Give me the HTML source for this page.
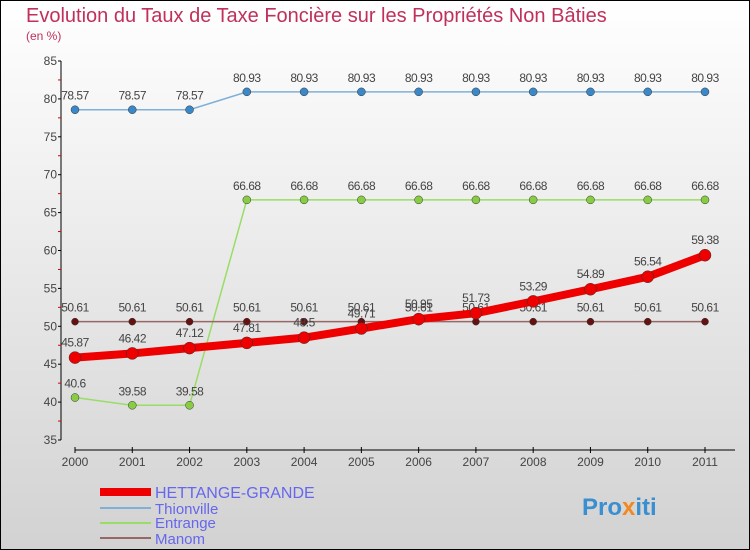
<!DOCTYPE html>
<html><head><meta charset="utf-8"><style>
body{margin:0}
svg{display:block;font-family:"Liberation Sans",sans-serif}
</style></head><body>
<svg id="c" width="750" height="550" xmlns="http://www.w3.org/2000/svg">
<defs><linearGradient id="bg" x1="0" y1="0" x2="0" y2="1"><stop offset="0" stop-color="#ffffff"/><stop offset="1" stop-color="#d2d2d2"/></linearGradient></defs>
<rect x="0.5" y="0.5" width="749" height="549" fill="url(#bg)" stroke="#000"/>
<text x="26" y="22" font-size="20" fill="#c0305a">Evolution du Taux de Taxe Foncière sur les Propriétés Non Bâties</text>
<text x="26" y="40" font-size="12" fill="#c0305a">(en %)</text>
<g id="axes"></g>
<g id="series"></g>
<g>
<rect x="100" y="488" width="51" height="8" fill="#e00"/>
<text x="155" y="498" font-size="16" fill="#6666ee">HETTANGE-GRANDE</text>
<rect x="100" y="507" width="51" height="2" fill="#7fb0d8"/>
<text x="155" y="514" font-size="15" fill="#6666ee">Thionville</text>
<rect x="100" y="522" width="51" height="2" fill="#99dd66"/>
<text x="155" y="528" font-size="15" fill="#6666ee">Entrange</text>
<rect x="100" y="537" width="51" height="2" fill="#996666"/>
<text x="155" y="544" font-size="15" fill="#6666ee">Manom</text>
</g>
<text x="582" y="515" font-size="24" font-weight="bold" fill="#3a8fd0">Pro<tspan fill="#f08a20">x</tspan>iti</text>
</svg>
<script>
const years=["2000","2001","2002","2003","2004","2005","2006","2007","2008","2009","2010","2011"];
const yTicks=[35,40,45,50,55,60,65,70,75,80,85];
const hettange=[45.87,46.42,47.12,47.81,48.5,49.71,50.95,51.73,53.29,54.89,56.54,59.38];
const thionville=[78.57,78.57,78.57,80.93,80.93,80.93,80.93,80.93,80.93,80.93,80.93,80.93];
const entrange=[40.6,39.58,39.58,66.68,66.68,66.68,66.68,66.68,66.68,66.68,66.68,66.68];
const manom=[50.61,50.61,50.61,50.61,50.61,50.61,50.61,50.61,50.61,50.61,50.61,50.61];
const NS="http://www.w3.org/2000/svg";
const X=i=>75+i*(705-75)/(years.length-1);
const Y=v=>440-(v-35)*(440-61)/50;
function mk(t,a,p){const e=document.createElementNS(NS,t);for(const k in a)e.setAttribute(k,a[k]);p.appendChild(e);return e;}
const ax=document.getElementById('axes');
let l=mk('line',{x1:61,y1:61,x2:61,y2:440,stroke:'#000'},ax);


yTicks.forEach((v,i)=>{
 mk('line',{x1:58,y1:Y(v),x2:61,y2:Y(v),stroke:'#000'},ax);
 if(i<yTicks.length-1)mk('line',{x1:58,y1:Y(v+2.5),x2:61,y2:Y(v+2.5),stroke:'#d00'},ax);
 const t=mk('text',{x:57,y:Y(v)+4,'font-size':12,fill:'#444','text-anchor':'end'},ax);
 t.textContent=v;
 
 
});
l=mk('line',{x1:75,y1:450,x2:735,y2:450,stroke:'#000'},ax);


years.forEach((y,i)=>{
 mk('line',{x1:X(i),y1:447,x2:X(i),y2:453,stroke:'#000'},ax);
 const t=mk('text',{x:X(i),y:466,'font-size':12,fill:'#444','text-anchor':'middle'},ax);
 t.textContent=y;
 
 
});
const sg=document.getElementById('series');
function series(name,data,color,w,r,dot,labelDy){
 const g=mk('g',{},sg);
 
 
 mk('polyline',{points:data.map((v,i)=>X(i)+','+Y(v)).join(' '),fill:'none',stroke:color,'stroke-width':w,'stroke-linejoin':'round'},g);
 data.forEach((v,i)=>{
  const c=mk('circle',{cx:X(i),cy:Y(v),r:r,fill:dot,stroke:'#333','stroke-width':0.5},g);
  
  
  const t=mk('text',{x:X(i),y:Y(v)+labelDy,'font-size':12,fill:'#444','text-anchor':'middle','letter-spacing':'-0.5'},g);
  t.textContent=v;
  
  
 });
}
series('thionville',thionville,'#7fb0d8',1.5,4,'#3a88c8',-10);
series('entrange',entrange,'#99dd66',1.5,4,'#88cc44',-10);
series('manom',manom,'#996666',1.5,3.5,'#661111',-10);
series('hettange',hettange,'#ee0000',8,6,'#ee0000',-11);
</script>
</body></html>
